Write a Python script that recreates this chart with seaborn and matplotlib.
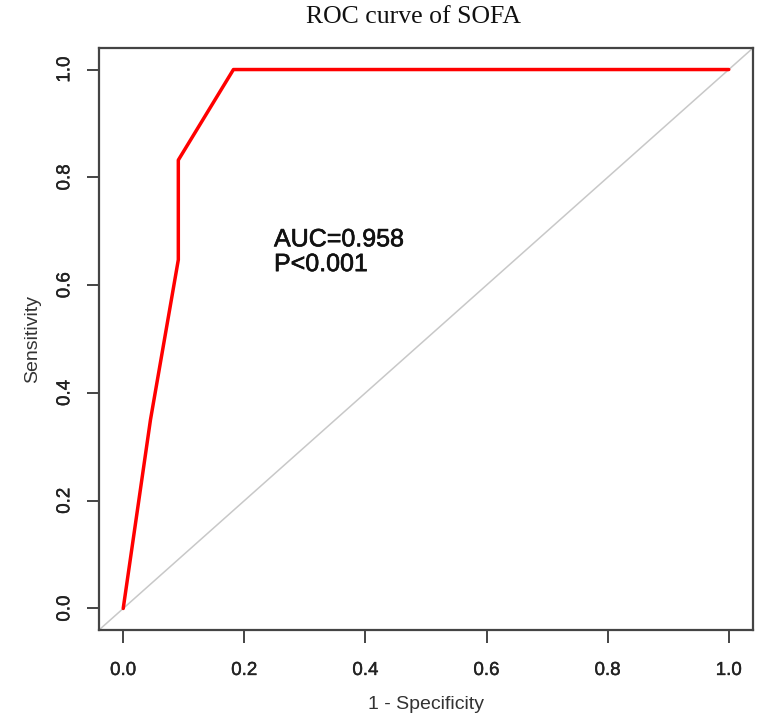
import pandas as pd
import numpy as np
import seaborn as sns
import matplotlib.pyplot as plt
import matplotlib.patheffects as pe

# ROC points
fpr = [0.0, 0.045, 0.091, 0.091, 0.182, 1.0]
tpr = [0.0, 0.35, 0.647, 0.832, 1.0, 1.0]
ticks = [0.0, 0.2, 0.4, 0.6, 0.8, 1.0]
tick_labels = ['0.0', '0.2', '0.4', '0.6', '0.8', '1.0']
auc_lines = ['AUC=0.958', 'P<0.001']

sns.set_style('white')
plt.rcParams['font.family'] = ['Liberation Sans', 'DejaVu Sans']

df = pd.DataFrame({'fpr': fpr, 'tpr': tpr})

fig = plt.figure(figsize=(7.65, 7.27), dpi=100)
ax = fig.add_axes([0.1294, 0.1334, 0.8549, 0.8006])

# diagonal reference line
ax.axline((0, 0), (1, 1), color='#c8c8c8', lw=1.1, zorder=1)
sns.lineplot(data=df, x='fpr', y='tpr', sort=False, estimator=None,
             color='#ff0000', lw=2.5, ax=ax, zorder=3)

ax.set_xlim(-0.04, 1.04)
ax.set_ylim(-0.04, 1.04)
ax.set_xticks(ticks)
ax.set_xticklabels(tick_labels)
ax.set_yticks(ticks)
ax.set_yticklabels(tick_labels, rotation=90, va='center')
ax.tick_params(axis='both', direction='out', length=9, width=1.4,
               color='#444444', labelsize=13.5, labelcolor='#222222',
               bottom=True, left=True)
ax.tick_params(axis='x', pad=14)
ax.tick_params(axis='y', pad=9.5)
heavy = [pe.withStroke(linewidth=0.3, foreground='#222222')]
for lab in ax.get_xticklabels() + ax.get_yticklabels():
    lab.set_path_effects(heavy)
for s in ax.spines.values():
    s.set_color('#444444')
    s.set_linewidth(1.6)

ax.set_xlabel('1 - Specificity', fontsize=14, color='#333333', labelpad=12)
ax.set_ylabel('Sensitivity', fontsize=14, color='#333333', labelpad=11)

bold = [pe.withStroke(linewidth=0.45, foreground='#111111')]
for txt, yb in zip(auc_lines, [0.672, 0.626]):
    ax.text(0.249, yb, txt, fontsize=18, color='#111111', ha='left',
            va='baseline', path_effects=bold)

fig.text(414 / 765, 1 - 17 / 727, 'ROC curve of SOFA', ha='center', va='center',
         fontsize=18.5, family=['Liberation Serif', 'DejaVu Serif'], color='#111111')

plt.savefig('out.png', dpi=100)
plt.close()
